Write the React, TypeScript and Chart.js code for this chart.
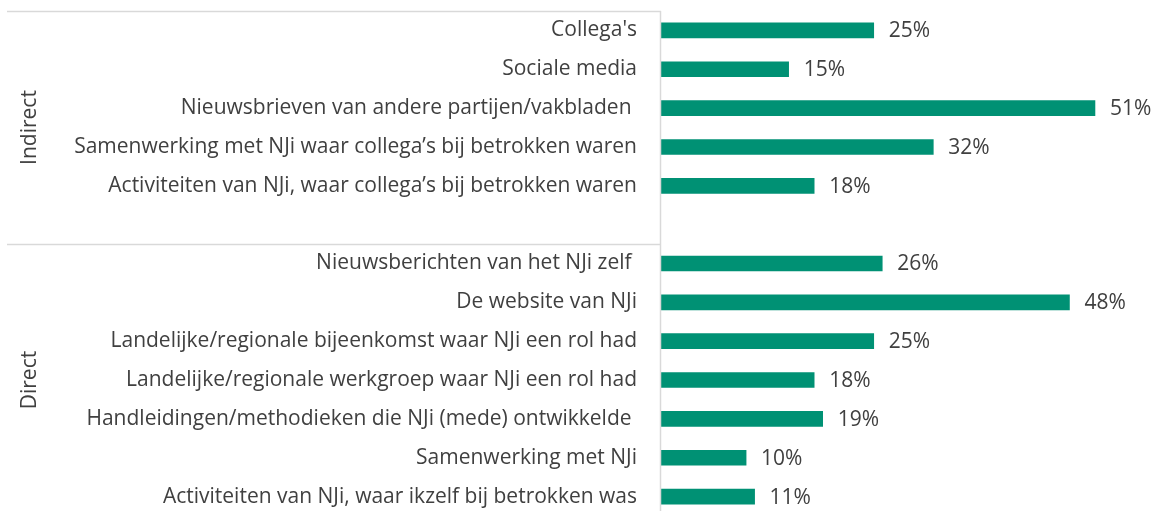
import React, { useEffect, useRef } from "react";
import { Chart, registerables } from "chart.js";

Chart.register(...registerables);

const categories: string[] = [
  "Collega's",
  "Sociale media",
  "Nieuwsbrieven van andere partijen/vakbladen ",
  "Samenwerking met NJi waar collega’s bij betrokken waren",
  "Activiteiten van NJi, waar collega’s bij betrokken waren",
  "",
  "Nieuwsberichten van het NJi zelf ",
  "De website van NJi",
  "Landelijke/regionale bijeenkomst waar NJi een rol had",
  "Landelijke/regionale werkgroep waar NJi een rol had",
  "Handleidingen/methodieken die NJi (mede) ontwikkelde ",
  "Samenwerking met NJi",
  "Activiteiten van NJi, waar ikzelf bij betrokken was",
];

const values: (number | null)[] = [25, 15, 51, 32, 18, null, 26, 48, 25, 18, 19, 10, 11];

const groupNames: string[] = ["Indirect", "Direct"];
const groupStart: number[] = [0, 6];
const groupEnd: number[] = [5, 12];

const FONT = "'Open Sans', sans-serif";
const FONT_SIZE = 21;
const TEXT_COLOR = "#404040";
const BAR_COLOR = "#009174";
const LINE_COLOR = "#d9d9d9";

const overlayPlugin = {
  id: "overlay",
  afterDatasetsDraw(chart: any) {
    const ctx = chart.ctx;
    const y = chart.scales.y;
    const x = chart.scales.x;
    const area = chart.chartArea;
    const step = y.getPixelForValue(1) - y.getPixelForValue(0);
    ctx.save();
    // value labels
    ctx.font = `${FONT_SIZE}px ${FONT}`;
    ctx.fillStyle = TEXT_COLOR;
    ctx.textAlign = "left";
    ctx.textBaseline = "middle";
    values.forEach((v, i) => {
      if (v === null) return;
      const px = x.getPixelForValue(v);
      const py = y.getPixelForValue(i);
      ctx.fillText(`${v}%`, px + 15, py + 1);
    });
    // lines
    ctx.strokeStyle = LINE_COLOR;
    ctx.lineWidth = 1.5;
    const lineLeft = 7;
    groupStart.forEach((s) => {
      const yy = Math.round(y.getPixelForValue(s) - step / 2) + 0.5;
      ctx.beginPath();
      ctx.moveTo(lineLeft, yy);
      ctx.lineTo(area.left, yy);
      ctx.stroke();
    });
    ctx.beginPath();
    ctx.moveTo(Math.round(area.left) - 0.5, area.top);
    ctx.lineTo(Math.round(area.left) - 0.5, chart.height);
    ctx.stroke();
    // group labels
    ctx.font = `${FONT_SIZE}px ${FONT}`;
    ctx.fillStyle = TEXT_COLOR;
    ctx.textAlign = "center";
    ctx.textBaseline = "middle";
    groupNames.forEach((g, k) => {
      const top = y.getPixelForValue(groupStart[k]) - step / 2;
      const bot = y.getPixelForValue(groupEnd[k]) + step / 2;
      const cy = (top + bot) / 2;
      ctx.save();
      ctx.translate(30, cy);
      ctx.rotate(-Math.PI / 2);
      ctx.fillText(g, 0, 0);
      ctx.restore();
    });
    ctx.restore();
  },
};

export default function App() {
  const ref = useRef<HTMLCanvasElement | null>(null);
  useEffect(() => {
    if (!ref.current) return;
    const chart = new Chart(ref.current, {
      type: "bar",
      data: {
        labels: categories,
        datasets: [
          {
            data: values as any,
            backgroundColor: BAR_COLOR,
            borderWidth: 0,
            barThickness: 15,
          },
        ],
      },
      options: {
        indexAxis: "y",
        animation: false,
        responsive: true,
        maintainAspectRatio: false,
        layout: { padding: { top: 11, bottom: 14, left: 0, right: 27 } },
        plugins: {
          legend: { display: false },
          tooltip: { enabled: false },
        },
        scales: {
          x: {
            display: false,
            min: 0,
            max: 55,
          },
          y: {
            grid: { display: false, drawTicks: false },
            border: { display: false },
            ticks: {
              color: TEXT_COLOR,
              font: { family: FONT, size: FONT_SIZE },
              padding: 24,
              autoSkip: false,
            },
            afterFit: (scale: any) => {
              scale.width = 661;
              scale.paddingTop = 0;
              scale.paddingBottom = 0;
            },
          },
        },
      },
      plugins: [overlayPlugin],
    });
    return () => chart.destroy();
  }, []);
  return (
    <div style={{ position: "absolute", left: 0, top: 0, width: 1156, height: 530 }}>
      <canvas ref={ref} />
    </div>
  );
}
